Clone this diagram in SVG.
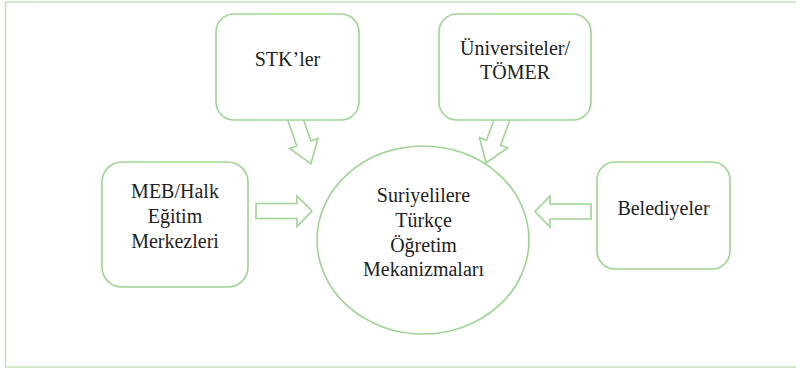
<svg xmlns="http://www.w3.org/2000/svg" width="796" height="369" viewBox="0 0 796 369">
<style>
.frame{fill:none;stroke:#c6e2b8;stroke-width:1.6}
.node{fill:#fff;stroke:#9ed492;stroke-width:1.6}
.arrow{fill:#fff;stroke:#9ed492;stroke-width:1.6;stroke-linejoin:miter}
.t{font-family:'Liberation Serif','Tinos','Times New Roman','DejaVu Serif',serif;font-size:20px;fill:#222;text-anchor:middle}
</style>
<rect width="796" height="369" fill="#fff"/>
<path class="frame" d="M796,2 H5.5 V367 H796"/>
<g id="connectors">
<polygon class="arrow" points="256,203.5 297,203.5 297,196 312,211 297,226.5 297,218.5 256,218.5"/>
<polygon class="arrow" points="591,204 550,204 550,196 535,211.5 550,227 550,219 591,219"/>
<g transform="translate(292,109.5) rotate(-19.2)">
<polygon class="arrow" points="-7.5,0 7.5,0 7.5,36 15,36 0,57.5 -15,36 -7.5,36"/>
</g>
<g transform="translate(506,109) rotate(20.3)">
<polygon class="arrow" points="-7.5,0 7.5,0 7.5,36 15,36 0,57.5 -15,36 -7.5,36"/>
</g>
</g>
<g id="stk">
<rect class="node" x="216" y="14" width="143" height="106" rx="18"/>
<text class="t" x="287.5" y="66">STK’ler</text>
</g>
<g id="universiteler">
<rect class="node" x="439" y="14" width="152" height="106" rx="18"/>
<text class="t" x="515" y="54.5">Üniversiteler/</text>
<text class="t" x="515" y="78.5">TÖMER</text>
</g>
<g id="meb">
<rect class="node" x="102" y="162" width="146" height="125" rx="20"/>
<text class="t" x="175" y="198">MEB/Halk</text>
<text class="t" x="175" y="223">Eğitim</text>
<text class="t" x="175" y="248">Merkezleri</text>
</g>
<g id="belediyeler">
<rect class="node" x="597" y="162" width="133" height="107" rx="18"/>
<text class="t" x="663.5" y="215">Belediyeler</text>
</g>
<g id="merkez">
<ellipse class="node" cx="423" cy="240" rx="106" ry="94"/>
<text class="t" x="423.5" y="201.5">Suriyelilere</text>
<text class="t" x="423.5" y="226.5">Türkçe</text>
<text class="t" x="423.5" y="251.5">Öğretim</text>
<text class="t" x="423.5" y="276">Mekanizmaları</text>
</g>
</svg>
